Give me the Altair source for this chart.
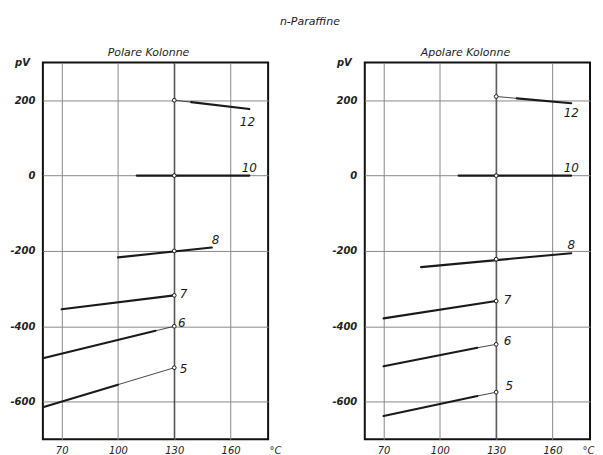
import altair as alt
import pandas as pd

FONT = "DejaVu Sans"

temp_ticks = [70, 100, 130, 160]
pv_ticks = [200, 0, -200, -400, -600]
ref_temp = [130]

# --- Polare Kolonne: line segments (series, kind, x0, y0, x1, y1) ---
pol_series = ["12", "12", "10", "8", "7", "6", "6", "5", "5"]
pol_kind = ["thin", "thick", "thick", "thick", "thick", "thick", "thin", "thick", "thin"]
pol_x0 = [130, 139, 110, 100, 70, 60, 120, 60, 100]
pol_y0 = [200, 195, 0, -217, -355, -485, -412, -615, -555]
pol_x1 = [139, 170, 170, 150, 130, 120, 130, 100, 130]
pol_y1 = [195, 177, 0, -191, -318, -412, -400, -555, -510]

# markers at 130 °C
pol_mark_x = [130, 130, 130, 130, 130, 130]
pol_mark_y = [200, 0, -200, -318, -400, -510]

# series labels
lab_text = ["12", "10", "8", "7", "6", "5"]
pol_lab_x = [169, 170, 152, 135, 134, 135]
pol_lab_y = [142, 19, -172, -315, -392, -514]

# --- Apolare Kolonne ---
apol_series = ["12", "12", "10", "8", "7", "6", "6", "5", "5"]
apol_kind = ["thin", "thick", "thick", "thick", "thick", "thick", "thin", "thick", "thin"]
apol_x0 = [130, 141, 110, 90, 70, 70, 120, 70, 120]
apol_y0 = [210, 205, 0, -243, -379, -506, -457, -638, -585]
apol_x1 = [141, 170, 170, 170, 130, 120, 130, 120, 130]
apol_y1 = [205, 192, 0, -206, -333, -457, -448, -585, -575]

apol_mark_x = [130, 130, 130, 130, 130, 130]
apol_mark_y = [210, 0, -222, -333, -448, -575]

apol_lab_x = [170, 170, 170, 136, 136, 137]
apol_lab_y = [166, 21, -185, -331, -440, -559]

W, H = 226, 378


def xenc(field, tx):
    return alt.X(field, type="quantitative",
                 scale=alt.Scale(domain=[60, 180], nice=False, zero=False),
                 axis=alt.Axis(values=temp_ticks, title="°C", grid=True,
                               gridColor="#8a8a8a", gridWidth=1, ticks=False,
                               domain=False, labelFont=FONT, labelFontSize=10,
                               labelFontStyle="italic", labelColor="#222",
                               labelPadding=6, titleFont=FONT, titleFontSize=10,
                               titleFontStyle="italic", titleFontWeight="normal",
                               titleColor="#222", titleX=tx, titleY=6,
                               titleAlign="center", titleBaseline="top"))


def yenc(field):
    return alt.Y(field, type="quantitative",
                 scale=alt.Scale(domain=[-700, 300], nice=False, zero=False),
                 axis=alt.Axis(values=pv_ticks, title="pV", grid=True,
                               gridColor="#8a8a8a", gridWidth=1, ticks=False,
                               domain=False, labelFont=FONT, labelFontSize=10,
                               labelFontStyle="italic", labelFontWeight="bold",
                               labelColor="#222", labelPadding=8,
                               labelExpr="datum.value + ''",
                               titleFont=FONT, titleFontSize=10,
                               titleFontStyle="italic", titleFontWeight="bold",
                               titleColor="#222", titleAngle=0, titleX=-21,
                               titleY=0, titleAlign="center",
                               titleBaseline="middle"))


def panel(title, dx, tx, series, kind, x0, y0, x1, y1, mx, my, lx, ly):
    seg = pd.DataFrame({"series": series, "kind": kind, "x0": x0, "y0": y0,
                        "x1": x1, "y1": y1})
    mk = pd.DataFrame({"x": mx, "y": my})
    lab = pd.DataFrame({"x": lx, "y": ly, "t": lab_text})
    refl = pd.DataFrame({"x": ref_temp})

    vline = alt.Chart(refl).mark_rule(color="#333", strokeWidth=1).encode(
        x=xenc("x", tx))
    rules = alt.Chart(seg).mark_rule(color="#1a1a1a", strokeCap="round").encode(
        x=xenc("x0", tx), y=yenc("y0"), x2="x1", y2="y1",
        strokeWidth=alt.StrokeWidth("kind:N", scale=alt.Scale(
            domain=["thick", "thin"], range=[2.1, 0.8]), legend=None),
    )
    pts = alt.Chart(mk).mark_point(shape="circle", size=14, filled=True,
                                   fill="white", stroke="#1a1a1a",
                                   strokeWidth=1, opacity=1).encode(
        x=xenc("x", tx), y=yenc("y"))
    txt = alt.Chart(lab).mark_text(font=FONT, fontSize=12, fontStyle="italic",
                                   color="#1a1a1a", align="center",
                                   baseline="middle").encode(
        x=xenc("x", tx), y=yenc("y"), text="t")
    return alt.layer(vline, rules, pts, txt).properties(
        width=W, height=H,
        title=alt.TitleParams(title, font=FONT, fontSize=11,
                              fontStyle="italic", fontWeight="normal",
                              color="#222", offset=0, dx=dx),
    )


left = panel("Polare Kolonne", -7, W + 7, pol_series, pol_kind, pol_x0, pol_y0,
             pol_x1, pol_y1, pol_mark_x, pol_mark_y, pol_lab_x, pol_lab_y)
right = panel("Apolare Kolonne", -12, W - 2, apol_series, apol_kind, apol_x0,
              apol_y0, apol_x1, apol_y1, apol_mark_x, apol_mark_y, apol_lab_x,
              apol_lab_y)

chart = alt.hconcat(left, right, spacing=48).properties(
    title=alt.TitleParams("n-Paraffine", font=FONT, fontSize=11,
                          fontStyle="italic", fontWeight="normal",
                          color="#222", anchor="middle", offset=19, dx=8),
    padding={"left": 0, "top": 7, "right": 0, "bottom": 0},
    background="white",
).configure_view(stroke="#111", strokeWidth=2)

chart.save("out.html", embed_options={"renderer": "svg", "actions": False})
